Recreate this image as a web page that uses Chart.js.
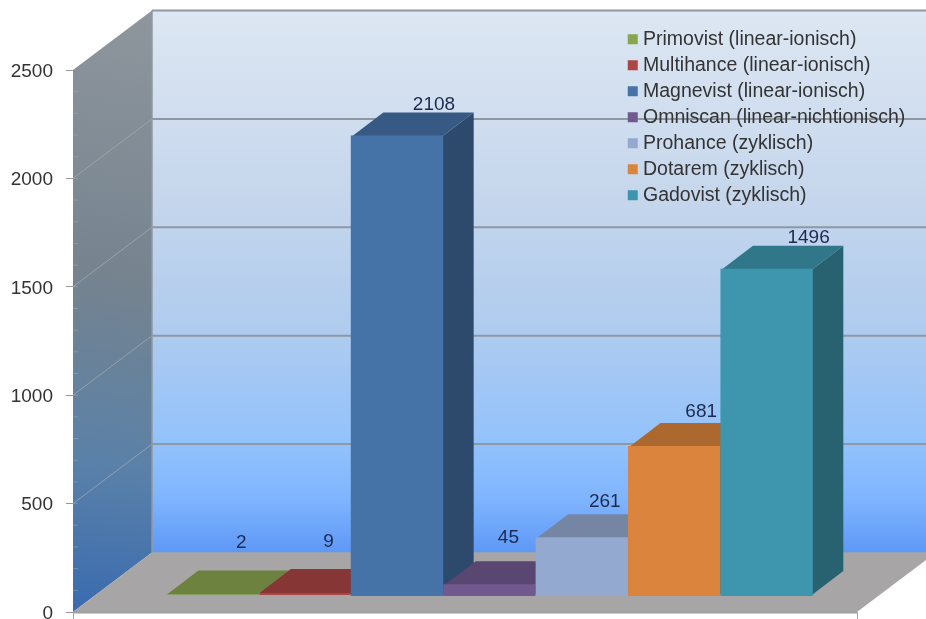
<!DOCTYPE html>
<html>
<head>
<meta charset="utf-8">
<title>Kontrastmittel</title>
<script src="https://cdn.jsdelivr.net/npm/chart.js@4"></script>
<style>
  html, body { margin: 0; padding: 0; background: #fff; }
  canvas { display: block; }
</style>
</head>
<body>
<canvas id="chart" width="926" height="619"></canvas>
<script>
// values
const seriesNames = [
    'Primovist (linear-ionisch)',
    'Multihance (linear-ionisch)',
    'Magnevist (linear-ionisch)',
    'Omniscan (linear-nichtionisch)',
    'Prohance (zyklisch)',
    'Dotarem (zyklisch)',
    'Gadovist (zyklisch)'
];
const seriesValues = [2, 9, 2108, 45, 261, 681, 1496];
const seriesColors = ['#89a54e', '#aa4643', '#4572a7', '#71588f', '#93a9cf', '#db843d', '#3d96ae'];
const yTicks = [0, 500, 1000, 1500, 2000, 2500];

// fake 3D: how far the back plane sits from the front plane
const WALL_DX = 79, WALL_DY = -59.5;
const BAR_DX = 31.5, BAR_DY = -24;
const FONT = '"Liberation Sans", Arial, sans-serif';

// value label position relative to the front top centre of each bar
const labelNudgeX = [29, 24, 37, 19, 23, 27, 42];
const labelNudgeY = [-52, -51, -32, -47, -37, -35, -32];

function shade(hex, f) {
    const n = parseInt(hex.slice(1), 16);
    const c = [n >> 16, (n >> 8) & 255, n & 255].map(v => Math.round(v * f));
    return `rgb(${c[0]}, ${c[1]}, ${c[2]})`;
}

function poly(ctx, pts, fill) {
    ctx.beginPath();
    pts.forEach((p, i) => i ? ctx.lineTo(p[0], p[1]) : ctx.moveTo(p[0], p[1]));
    ctx.closePath();
    ctx.fillStyle = fill;
    ctx.fill();
}

function line(ctx, x1, y1, x2, y2, color, width) {
    ctx.beginPath();
    ctx.moveTo(x1, y1);
    ctx.lineTo(x2, y2);
    ctx.strokeStyle = color;
    ctx.lineWidth = width;
    ctx.stroke();
}

// walls, floor and gridlines go under everything
const wallsPlugin = {
    id: 'walls',
    beforeDraw(chart) {
        const { ctx, chartArea: a, scales } = chart;
        const y = scales.y;
        const x0 = a.left, x1 = a.right, bottom = a.bottom, top = a.top;
        const bx0 = x0 + WALL_DX, bx1 = x1 + WALL_DX;
        const bTop = top + WALL_DY, bBottom = bottom + WALL_DY;

        ctx.save();
        const back = ctx.createLinearGradient(0, bTop, 0, bBottom);
        back.addColorStop(0, '#dde7f3');
        back.addColorStop(0.35, '#c5d6ec');
        back.addColorStop(0.6, '#aecbef');
        back.addColorStop(0.8, '#92c2fc');
        back.addColorStop(0.9, '#7fb5ff');
        back.addColorStop(1, '#5e98f6');
        poly(ctx, [[bx0, bTop], [bx1, bTop], [bx1, bBottom], [bx0, bBottom]], back);

        const side = ctx.createLinearGradient(bx0, bTop, x0, bottom);
        side.addColorStop(0, '#8f969d');
        side.addColorStop(0.45, '#75838f');
        side.addColorStop(0.75, '#5a81a8');
        side.addColorStop(1, '#3a6bb0');
        poly(ctx, [[x0, top], [bx0, bTop], [bx0, bBottom], [x0, bottom]], side);

        poly(ctx, [[x0, bottom], [bx0, bBottom], [bx1, bBottom], [x1, bottom]], '#a7a5a5');

        yTicks.forEach(v => {
            const py = y.getPixelForValue(v);
            if (v > 0) line(ctx, bx0, py + WALL_DY, bx1, py + WALL_DY, '#8f98a2', 2);
            if (v > 0 && v < 2500) line(ctx, x0, py, bx0, py + WALL_DY, 'rgba(165, 170, 175, 0.75)', 1);
        });
        // small marks on the side wall
        for (let v = 100; v < 2500; v += 100) {
            const py = y.getPixelForValue(v);
            line(ctx, x0, py, x0 + 5, py, 'rgba(170, 175, 180, 0.45)', 1);
        }
        line(ctx, bx0, bTop, bx0, bBottom, '#8f98a2', 1.5);
        line(ctx, bx0, bBottom, bx1, bBottom, '#93a3b5', 1);

        // front edge of the floor
        line(ctx, x0, bottom + 0.5, x1, bottom + 0.5, '#a0a0a0', 2);
        line(ctx, x1 + 0.5, bottom, x1 + 0.5, 619, '#a6a6a6', 1);
        line(ctx, x0 + 0.5, bottom, x0 + 0.5, 619, '#a6a6a6', 1);
        ctx.restore();

        // legend sits in the upper right corner of the back wall
        if (chart.legend) {
            const lx = chart.legend;
            lx.left = 632.25 - 6.5;
            lx.right = 926;
            lx.top = 23;
            lx.bottom = 230;
        }
    }
};

// side and top of each bar, the library paints the front right after
const extrudePlugin = {
    id: 'extrude',
    beforeDatasetDraw(chart, args) {
        const bar = args.meta.data[0];
        if (!bar) return;
        const { ctx } = chart;
        const color = seriesColors[args.index];
        const l = bar.x - bar.width / 2, r = bar.x + bar.width / 2;
        const t = bar.y, b = bar.base;
        ctx.save();
        poly(ctx, [[r, t], [r + BAR_DX, t + BAR_DY], [r + BAR_DX, b + BAR_DY], [r, b]], shade(color, 0.65));
        poly(ctx, [[l, t], [l + BAR_DX, t + BAR_DY], [r + BAR_DX, t + BAR_DY], [r, t]], shade(color, 0.79));
        ctx.restore();
    },
    afterDatasetsDraw(chart) {
        const { ctx } = chart;
        ctx.save();
        ctx.font = '19px ' + FONT;
        ctx.fillStyle = '#1d2a4f';
        ctx.textAlign = 'center';
        ctx.textBaseline = 'middle';
        seriesValues.forEach((v, i) => {
            const bar = chart.getDatasetMeta(i).data[0];
            ctx.fillText(String(v), bar.x + labelNudgeX[i], bar.y + labelNudgeY[i]);
        });
        ctx.restore();
    }
};

new Chart(document.getElementById('chart'), {
    type: 'bar',
    data: {
        datasets: seriesNames.map((name, i) => ({
            label: name,
            data: [{ x: i, y: seriesValues[i] }],
            backgroundColor: seriesColors[i],
            borderWidth: 0,
            inflateAmount: seriesValues[i] < 20 ? 0 : 1,   // hides the seam between neighbouring fronts
            yAxisID: 'y1',
            grouped: false,
            categoryPercentage: 1,
            barPercentage: 1,
            order: seriesNames.length - i   // left bar first, so the next one covers its side
        }))
    },
    plugins: [wallsPlugin, extrudePlugin],
    options: {
        responsive: false,
        animation: false,
        layout: { padding: { top: 70, bottom: 7, right: 69, left: 0 } },
        scales: {
            x: { type: 'linear', display: false, offset: false, min: -1.506, max: 6.978 },
            y: {
                min: 0,
                max: 2500,
                afterFit: scale => {
                    scale.width = 73;
                    // tick labels must not push the chart area in
                    scale.paddingTop = 0;
                    scale.paddingBottom = 0;
                },
                afterBuildTicks: scale => { scale.ticks = yTicks.map(v => ({ value: v })); },
                grid: { drawOnChartArea: false, drawTicks: true, tickLength: 7, color: '#999' },
                border: { display: false },
                ticks: { padding: 13, labelOffset: 1.5, color: '#333', font: { family: FONT, size: 19 }, callback: v => String(v) }
            },
            // bars stand a bit in front of the axis zero
            y1: { display: false, min: -78, max: 2414 }
        },
        plugins: {
            tooltip: { enabled: false },
            title: { display: false },
            legend: {
                position: 'chartArea',
                align: 'start',
                labels: {
                    boxWidth: 1,
                    boxHeight: 1,
                    padding: 6.5,
                    color: '#333',
                    font: { family: FONT, size: 19.5 },
                    sort: (a, b) => a.datasetIndex - b.datasetIndex,
                    generateLabels: chart => Chart.defaults.plugins.legend.labels.generateLabels(chart)
                        .map(item => ({ ...item, lineWidth: 9, strokeStyle: item.fillStyle }))
                }
            }
        }
    }
});
</script>
</body>
</html>
